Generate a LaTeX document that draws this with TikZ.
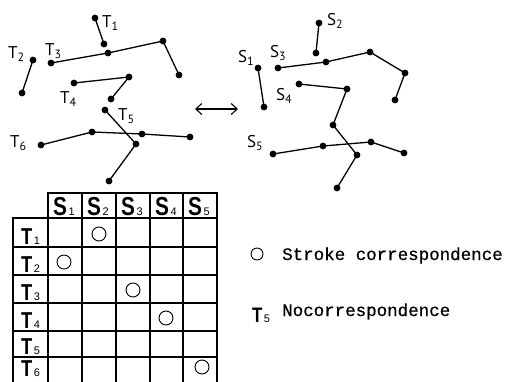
\documentclass[tikz,border=0pt]{standalone}
\usepackage{fontspec}
\setmainfont{PT Sans}
\newfontfamily\hdfont{Liberation Sans}
\newfontfamily\twfont[FakeBold=0.6]{Liberation Mono}
\usetikzlibrary{arrows.meta}
\tikzset{
  stroke/.style={line width=1.3pt, mark=*, mark size=2.7pt, mark options={fill=black}},
  grid line/.style={line width=1.4pt},
  lbl/.style={anchor=base west, inner sep=0pt, font=\fontsize{17}{17}\selectfont},
  hd/.style={anchor=base west, inner sep=0pt},
  match/.style={circle, draw, line width=0.9pt, minimum size=14pt, inner sep=0pt},
  legend/.style={anchor=base west, inner sep=0pt, font=\twfont\fontsize{17.5}{17.5}\selectfont},
}
% stroke label: letter with lowered small index
\newcommand{\stk}[2]{#1\raisebox{-3pt}{\fontsize{12}{12}\selectfont #2}}
% table heading: heavy narrow letter with small index at its foot
\newcommand{\thd}[3][26]{\scalebox{0.8}[1]{\hdfont\bfseries\fontsize{#1}{#1}\selectfont #2}\hspace{1.5pt}{\hdfont\fontsize{11}{11}\selectfont #3}}
\begin{document}
\begin{tikzpicture}[x=1pt,y=-1pt]
\useasboundingbox (0,0) rectangle (507,381);

% ---- character T: strokes T1..T6
\draw[stroke] plot coordinates {(95,18) (104,44)};
\draw[stroke] plot coordinates {(33,60) (22,93)};
\draw[stroke] plot coordinates {(51,63) (108,53) (163,41) (179,75)};
\draw[stroke] plot coordinates {(74,83) (129,77) (111,99)};
\draw[stroke] plot coordinates {(105,110) (136,144) (109,181)};
\draw[stroke] plot coordinates {(41,145) (92,132) (142,134) (190,137)};
\node[lbl] (t1) at (102,27) {\stk{T}{1}};
\node[lbl] (t2) at (8,58) {\stk{T}{2}};
\node[lbl] (t3) at (45,55) {\stk{T}{3}};
\node[lbl] (t4) at (60,103) {\stk{T}{4}};
\node[lbl] (t5) at (118,120) {\stk{T}{5}};
\node[lbl] (t6) at (10,147) {\stk{T}{6}};

% ---- character S: strokes S1..S5
\draw[stroke] plot coordinates {(319,23) (316,53)};
\draw[stroke] plot coordinates {(258,68) (264,107)};
\draw[stroke] plot coordinates {(278,68) (326,62) (370,52) (405,73) (395,100)};
\draw[stroke] plot coordinates {(299,84) (347,89) (333,125) (357,155) (337,188)};
\draw[stroke] plot coordinates {(273,154) (323,146) (371,142) (404,153)};
\node[lbl] (s1) at (238,62) {\stk{S}{1}};
\node[lbl] (s2) at (327,25) {\stk{S}{2}};
\node[lbl] (s3) at (270,57) {\stk{S}{3}};
\node[lbl] (s4) at (276,100) {\stk{S}{4}};
\node[lbl] (s5) at (247,147) {\stk{S}{5}};

% ---- matching arrow
\coordinate (al) at (195,109);
\coordinate (ar) at (238,109);
\draw[line width=1.1pt, {Straight Barb[length=6pt,width=11pt]}-{Straight Barb[length=6pt,width=11pt]}] (al) -- (ar);

% ---- correspondence table
\draw[grid line] (48,193) rectangle (217,386);
\draw[grid line] (13,218) rectangle (48,386);
\foreach \x in {82,116,150,183} \draw[grid line] (\x,193) -- (\x,386);
\foreach \y in {218,247,275,303,331,357} \draw[grid line] (13,\y) -- (217,\y);

\foreach \i/\x in {1/48,2/82,3/116,4/150,5/183}
  \node[hd] (h\i) at (\x+5,215) {\thd{S}{\i}};
\foreach \i/\y in {1/247,2/275,3/303,4/331,5/357}
  \node[hd] (r\i) at (21,\y-3) {\thd[23]{T}{\i}};
\node[hd] (r6) at (21,376) {\thd[23]{T}{6}};

\node[match] (m1) at (99,234) {};
\node[match] (m2) at (64,262) {};
\node[match] (m3) at (133,290) {};
\node[match] (m4) at (166,318) {};
\node[match] (m6) at (202,367) {};

% ---- legend
\node[match, minimum size=12pt] (lc) at (257,254) {};
\node[legend] (lt1) at (282,260) {Stroke correspondence};
\node[hd] (lt5) at (252,322) {\thd[21]{T}{5}};
\node[legend] (lt2) at (282,316) {Nocorrespondence};
\end{tikzpicture}
\end{document}
